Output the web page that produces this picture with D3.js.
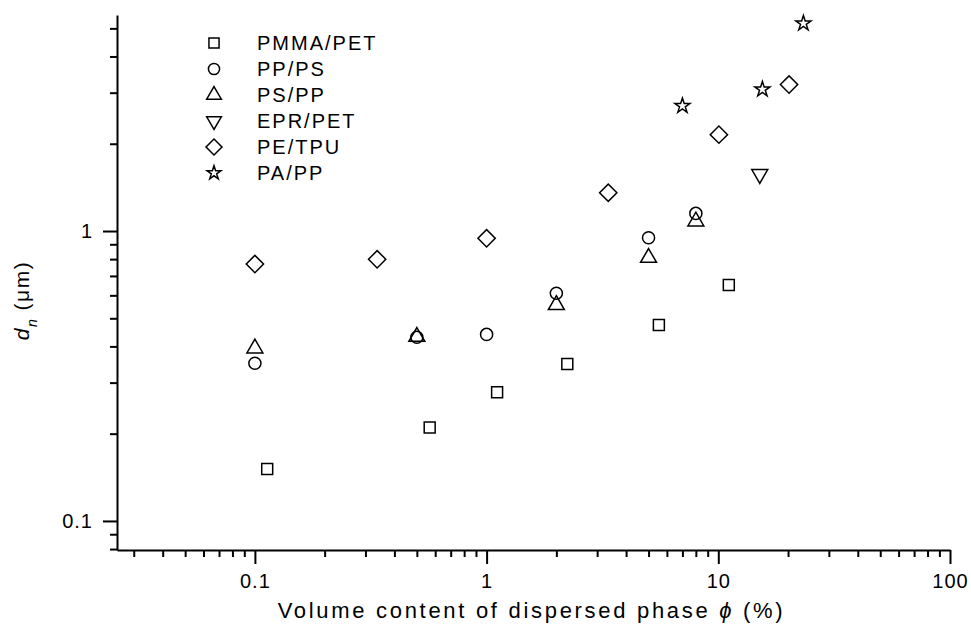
<!DOCTYPE html>
<html>
<head>
<meta charset="utf-8">
<script src="https://cdn.jsdelivr.net/npm/d3@7"></script>
<style>
body { margin: 0; background: #fff; }
</style>
</head>
<body>
<div id="chart"></div>
<script>
// series names and values
var seriesNames = ["PMMA/PET", "PP/PS", "PS/PP", "EPR/PET", "PE/TPU", "PA/PP"];

var pmmaPetX = [0.113, 0.568, 1.11, 2.23, 5.54, 11.1];
var pmmaPetY = [0.151, 0.21, 0.278, 0.348, 0.474, 0.651];

var ppPsX = [0.1, 0.5, 1, 2, 5, 8];
var ppPsY = [0.35, 0.43, 0.44, 0.61, 0.948, 1.15];

var psPpX = [0.1, 0.5, 2, 5, 8];
var psPpY = [0.394, 0.432, 0.556, 0.809, 1.08];

var eprPetX = [15.1];
var eprPetY = [1.57];

var peTpuX = [0.1, 0.337, 1, 3.35, 10.06, 20.2];
var peTpuY = [0.769, 0.799, 0.944, 1.355, 2.15, 3.2];

var paPpX = [7.0, 15.5, 23.3];
var paPpY = [2.70, 3.08, 5.2];

var xTicks = [0.1, 1, 10, 100];
var yTicks = [0.1, 1];

var allX = [pmmaPetX, ppPsX, psPpX, eprPetX, peTpuX, paPpX];
var allY = [pmmaPetY, ppPsY, psPpY, eprPetY, peTpuY, paPpY];

var margin = {top: 15, right: 21, bottom: 81, left: 117};
var width = 971 - margin.left - margin.right;
var height = 631 - margin.top - margin.bottom;
var font = "'Liberation Sans', Arial, sans-serif";

var x = d3.scaleLog()
    .domain([0.0254, 100])
    .range([0, width]);

var y = d3.scaleLog()
    .domain([0.0794, 5.56])
    .range([height, 0]);

// minor ticks: 2..9 in every decade that falls inside the domain
function minorTicks(scale) {
    var d = scale.domain(), out = [];
    for (var e = -3; e <= 3; e++) {
        for (var k = 2; k <= 9; k++) {
            var v = k * Math.pow(10, e);
            if (v >= d[0] && v <= d[1]) out.push(v);
        }
    }
    return out;
}

// marker shapes per series
var symbols = [
    {type: d3.symbolSquare, size: 120, rotate: 0},
    {type: d3.symbolCircle, size: 115, rotate: 0},
    {type: d3.symbolTriangle, size: 110, rotate: 0},
    {type: d3.symbolTriangle, size: 110, rotate: 180},
    {type: d3.symbolSquare, size: 150, rotate: 45},
    {type: d3.symbolStar, size: 70, rotate: 0}
];

var svg = d3.select("#chart").append("svg")
    .attr("width", width + margin.left + margin.right)
    .attr("height", height + margin.top + margin.bottom)
    .append("g")
    .attr("transform", "translate(" + margin.left + "," + margin.top + ")");

// x axis
svg.append("g")
    .attr("transform", "translate(0," + height + ")")
    .call(d3.axisBottom(x).tickValues(minorTicks(x)).tickSize(7).tickFormat("").tickSizeOuter(0))
    .call(g => g.select(".domain").remove())
    .selectAll("line").attr("stroke-width", 2);

svg.append("g")
    .attr("transform", "translate(0," + height + ")")
    .call(d3.axisBottom(x).tickValues(xTicks).tickSize(14).tickSizeOuter(0).tickPadding(10)
        .tickFormat(d => d3.format("~g")(d)))
    .call(g => g.select(".domain").attr("stroke-width", 2))
    .call(g => g.selectAll("line").attr("stroke-width", 2))
    .selectAll("text")
    .style("font-family", font)
    .style("font-size", "20px")
    .style("letter-spacing", "1px")
    .attr("fill", "#000");

// y axis
svg.append("g")
    .call(d3.axisLeft(y).tickValues(minorTicks(y)).tickSize(7).tickFormat("").tickSizeOuter(0))
    .call(g => g.select(".domain").remove())
    .selectAll("line").attr("stroke-width", 2);

svg.append("g")
    .call(d3.axisLeft(y).tickValues(yTicks).tickSize(14).tickSizeOuter(0).tickPadding(10)
        .tickFormat(d => d3.format("~g")(d)))
    .call(g => g.select(".domain").attr("stroke-width", 2))
    .call(g => g.selectAll("line").attr("stroke-width", 2))
    .selectAll("text")
    .style("font-family", font)
    .style("font-size", "20px")
    .style("letter-spacing", "1px")
    .attr("fill", "#000");

// axis titles
svg.append("text")
    .attr("x", width / 2 - 2)
    .attr("y", height + 68)
    .attr("text-anchor", "middle")
    .style("font-family", font)
    .style("font-size", "22px")
    .style("letter-spacing", "2.7px")
    .attr("fill", "#000")
    .text("Volume content of dispersed phase ")
    .append("tspan")
    .style("font-style", "italic")
    .text("\u03d5")
    .append("tspan")
    .style("font-style", "normal")
    .text(" (%)");

var ylab = svg.append("text")
    .attr("transform", "translate(" + (-88) + "," + (height / 2 + 18) + ") rotate(-90)")
    .attr("text-anchor", "middle")
    .style("font-family", font)
    .style("font-size", "21px")
    .style("letter-spacing", "1.5px")
    .attr("fill", "#000");
ylab.append("tspan").style("font-style", "italic").text("d");
ylab.append("tspan").style("font-style", "italic").style("font-size", "14px").attr("dy", 8).text("n");
ylab.append("tspan").attr("dy", -8).text(" (\u03bcm)");

// markers
allX.forEach(function(xs, i) {
    var sym = symbols[i];
    svg.selectAll(".s" + i)
        .data(xs.map((v, j) => [v, allY[i][j]]))
        .enter().append("path")
        .attr("class", "s" + i)
        .attr("d", d3.symbol().type(sym.type).size(sym.size))
        .attr("transform", d => "translate(" + x(d[0]) + "," + y(d[1]) + ") rotate(" + sym.rotate + ")")
        .attr("fill", "none")
        .attr("stroke", "#000")
        .attr("stroke-width", 1.5);
});

// legend
var legend = svg.append("g")
    .attr("transform", "translate(" + (214 - margin.left) + "," + (43 - margin.top) + ")");

seriesNames.forEach(function(name, i) {
    var sym = symbols[i];
    var row = legend.append("g").attr("transform", "translate(0," + (i * 26) + ")");
    row.append("path")
        .attr("d", d3.symbol().type(sym.type).size(sym.size * 0.85))
        .attr("transform", "rotate(" + sym.rotate + ")")
        .attr("fill", "none")
        .attr("stroke", "#000")
        .attr("stroke-width", 1.5);
    row.append("text")
        .attr("x", 43)
        .attr("y", 7)
        .style("font-family", font)
        .style("font-size", "20px")
        .style("letter-spacing", "2px")
        .attr("fill", "#000")
        .text(name);
});
</script>
</body>
</html>
